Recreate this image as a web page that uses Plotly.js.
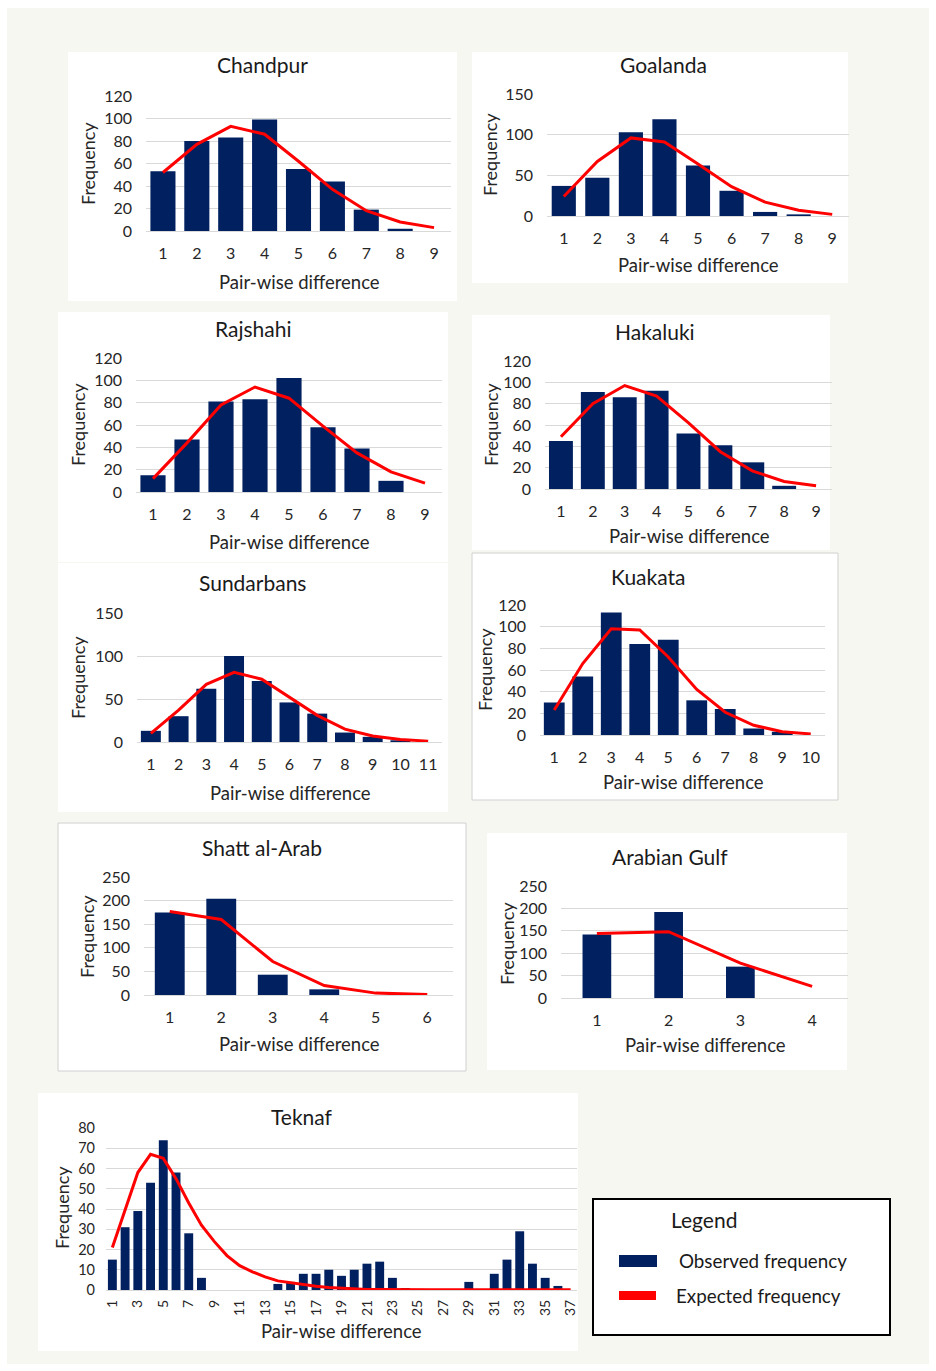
<!DOCTYPE html>
<html>
<head>
<meta charset="utf-8">
<script src="https://cdn.plot.ly/plotly-3.0.1.min.js"></script>
<style>html,body{margin:0;padding:0;background:#fff;}#chart{width:936px;height:1371px;}</style>
</head>
<body>
<div id="chart"></div>
<script>
// ---------- DATA ----------
const diff4 = [1, 2, 3, 4];
const diff6 = [1, 2, 3, 4, 5, 6];
const diff9 = [1, 2, 3, 4, 5, 6, 7, 8, 9];
const diff10 = [1, 2, 3, 4, 5, 6, 7, 8, 9, 10];
const diff11 = [1, 2, 3, 4, 5, 6, 7, 8, 9, 10, 11];
const diff37 = [1,2,3,4,5,6,7,8,9,10,11,12,13,14,15,16,17,18,19,20,21,22,23,24,25,26,27,28,29,30,31,32,33,34,35,36,37];
const teknafTicks = [1,3,5,7,9,11,13,15,17,19,21,23,25,27,29,31,33,35,37];

const chandpurObs = [53, 80, 83, 99, 55, 44, 19, 2, 0];
const chandpurExp = [52, 77, 93, 86, 62, 37, 18, 8, 3];
const goalandaObs = [37, 47, 103, 119, 62, 31, 5, 2, 0];
const goalandaExp = [24, 67, 96, 91, 64, 36, 17, 7, 2];
const rajshahiObs = [15, 47, 81, 83, 102, 58, 39, 10, 0];
const rajshahiExp = [12, 44, 78, 94, 84, 59, 35, 18, 8];
const hakalukiObs = [45, 91, 86, 92, 52, 41, 25, 3, 0];
const hakalukiExp = [49, 80, 97, 87, 62, 35, 17, 7, 3];
const sundarbansObs = [13, 30, 62, 100, 71, 46, 33, 11, 6, 2, 0];
const sundarbansExp = [10, 37, 67, 81, 73, 52, 31, 15, 7, 3, 1];
const kuakataObs = [30, 54, 113, 84, 88, 32, 24, 6, 3, 0];
const kuakataExp = [23, 66, 98, 97, 72, 42, 21, 9, 3, 1];
const shattObs = [175, 204, 43, 12, 0, 0];
const shattExp = [177, 160, 71, 20, 4, 1];
const gulfObs = [142, 192, 70, 0];
const gulfExp = [144, 148, 78, 26];
const teknafObs = [15,31,39,53,74,58,28,6,0,0,0,0,0,3,4,8,8,10,7,10,13,14,6,1,0,0,0,0,4,0,8,15,29,13,6,2,0];
const teknafExp = [21,40,58,67,65,55,43,32,24,17,12,9,6.5,4.5,3.5,2.5,1.8,1.2,0.8,0.5,0.3,0.2,0.1,0.1,0.1,0.1,0.1,0.1,0.1,0.1,0.1,0.1,0.1,0.1,0.1,0.1,0.1];

const panelTitles = ["Chandpur","Goalanda","Rajshahi","Hakaluki","Sundarbans","Kuakata","Shatt al-Arab","Arabian Gulf","Teknaf"];
const yTitle = "Frequency";
const xTitle = "Pair-wise difference";
const legendTitle = "Legend";
const legendObs = "Observed frequency";
const legendExp = "Expected frequency";

// ---------- LAYOUT CONFIG ----------
const W = 936, H = 1371;
const px = x => x / W;
const py = y => 1 - y / H;
const FONT = "Lato, 'Open Sans', sans-serif";
const BLUE = "#002060", RED = "#ff0000", GRID = "#d9d9d9", TXT = "#262626";

const panels = [
  {cats: diff9,  obs: chandpurObs,   exp: chandpurExp,   ymax: 120, dtick: 20, area: [146,96,451,231],  box: [68,52,457,301],   bw: 0.74, title: [262,64],   yt: [88,164],  xt: [299,282],  border: false},
  {cats: diff9,  obs: goalandaObs,   exp: goalandaExp,   ymax: 150, dtick: 50, area: [547,94,849,216],  box: [472,52,848,283],  bw: 0.72, title: [663,64],   yt: [490,155], xt: [698,265],  border: false},
  {cats: diff9,  obs: rajshahiObs,   exp: rajshahiExp,   ymax: 120, dtick: 20, area: [136,358,442,492], box: [58,312,448,562],  bw: 0.74, title: [253,328],  yt: [78,425],  xt: [289,542],  border: false},
  {cats: diff9,  obs: hakalukiObs,   exp: hakalukiExp,   ymax: 120, dtick: 20, area: [545,361,832,489], box: [472,315,830,550], bw: 0.75, title: [655,331],  yt: [491,425], xt: [689,536],  border: false},
  {cats: diff11, obs: sundarbansObs, exp: sundarbansExp, ymax: 150, dtick: 50, area: [137,613,442,742], box: [58,563,448,812],  bw: 0.72, title: [252,582],  yt: [78,678],  xt: [290,793],  border: false},
  {cats: diff10, obs: kuakataObs,    exp: kuakataExp,    ymax: 120, dtick: 20, area: [540,605,825,735], box: [472,553,838,800], bw: 0.73, title: [648,576],  yt: [485,670], xt: [683,782],  border: true},
  {cats: diff6,  obs: shattObs,      exp: shattExp,      ymax: 250, dtick: 50, area: [144,877,453,995], box: [58,823,466,1071], bw: 0.58, title: [262,847],  yt: [87,937],  xt: [299,1044], border: true},
  {cats: diff4,  obs: gulfObs,       exp: gulfExp,       ymax: 250, dtick: 50, area: [561,886,848,998], box: [487,833,847,1070],bw: 0.40, title: [670,856],  yt: [507,943], xt: [705,1045], border: false},
  {cats: diff37, obs: teknafObs,     exp: teknafExp,     ymax: 80,  dtick: 10, area: [106,1128,577,1290],box: [38,1093,578,1351],bw: 0.70, title: [302,1116], yt: [62,1208], xt: [341,1331], border: false, ticks: teknafTicks, rot: true}
];

const traces = [];
const layout = {
  width: W, height: H,
  margin: {l: 0, r: 0, t: 0, b: 0, pad: 0},
  paper_bgcolor: "#ffffff",
  plot_bgcolor: "rgba(0,0,0,0)",
  showlegend: false,
  font: {family: FONT, color: TXT},
  shapes: [
    {type: "rect", xref: "paper", yref: "paper", x0: px(7), x1: px(929), y0: py(1364), y1: py(8), fillcolor: "#f7f7f2", line: {width: 0}, layer: "below"}
  ],
  annotations: []
};

panels.forEach((p, i) => {
  const k = i + 1;
  const xa = "x" + (k === 1 ? "" : k), ya = "y" + (k === 1 ? "" : k);
  const xkey = "xaxis" + (k === 1 ? "" : k), ykey = "yaxis" + (k === 1 ? "" : k);
  const [ax0, ay0, ax1, ay1] = p.area;
  const [bx0, by0, bx1, by1] = p.box;

  layout.shapes.push({type: "rect", xref: "paper", yref: "paper", x0: px(bx0), x1: px(bx1), y0: py(by1), y1: py(by0),
    fillcolor: "#ffffff", line: {width: p.border ? 1 : 0, color: "#d0d0d0"}, layer: "below"});

  layout[xkey] = {
    domain: [px(ax0), px(ax1)], anchor: ya,
    range: [0.5, p.cats.length + 0.5],
    tickmode: "array", tickvals: p.ticks || p.cats, ticktext: (p.ticks || p.cats).map(String),
    tickangle: p.rot ? -90 : 0,
    showgrid: false, zeroline: false, showline: false, ticks: "",
    ticklabelstandoff: p.rot ? 6 : 11,
    tickfont: {family: FONT, size: p.rot ? 14 : 16, color: TXT},
    fixedrange: true
  };
  layout[ykey] = {
    domain: [py(ay1), py(ay0)], anchor: xa,
    range: [0, p.ymax], dtick: p.dtick, tick0: 0,
    showgrid: true, gridcolor: GRID, gridwidth: 1,
    zeroline: true, zerolinecolor: GRID, zerolinewidth: 1,
    showline: false, ticks: "",
    ticklabelstandoff: p.rot ? 10 : 13,
    tickfont: {family: FONT, size: p.rot ? 14.5 : 16, color: TXT},
    fixedrange: true
  };

  traces.push({type: "bar", x: p.cats, y: p.obs, xaxis: xa, yaxis: ya, width: p.bw,
    marker: {color: BLUE, line: {width: 0}}, name: legendObs, hoverinfo: "x+y"});
  traces.push({type: "scatter", mode: "lines", x: p.cats, y: p.exp, xaxis: xa, yaxis: ya,
    line: {color: RED, width: 3}, name: legendExp, hoverinfo: "x+y", cliponaxis: false});

  layout.annotations.push({xref: "paper", yref: "paper", x: px(p.title[0]), y: py(p.title[1]), text: panelTitles[i],
    showarrow: false, xanchor: "center", yanchor: "middle", font: {family: FONT, size: 21, color: "#1a1a1a"}});
  layout.annotations.push({xref: "paper", yref: "paper", x: px(p.yt[0]), y: py(p.yt[1]), text: yTitle, textangle: -90,
    showarrow: false, xanchor: "center", yanchor: "middle", font: {family: FONT, size: 18, color: TXT}});
  layout.annotations.push({xref: "paper", yref: "paper", x: px(p.xt[0]), y: py(p.xt[1]), text: xTitle,
    showarrow: false, xanchor: "center", yanchor: "middle", font: {family: FONT, size: 18.5, color: TXT}});
});

// Legend box (drawn manually)
layout.shapes.push({type: "rect", xref: "paper", yref: "paper", x0: px(593), x1: px(890), y0: py(1335), y1: py(1199),
  fillcolor: "#ffffff", line: {width: 2, color: "#000000"}, layer: "above"});
layout.shapes.push({type: "rect", xref: "paper", yref: "paper", x0: px(619), x1: px(657), y0: py(1267), y1: py(1255),
  fillcolor: BLUE, line: {width: 0}, layer: "above"});
layout.shapes.push({type: "rect", xref: "paper", yref: "paper", x0: px(619), x1: px(656), y0: py(1300), y1: py(1291),
  fillcolor: RED, line: {width: 0}, layer: "above"});
layout.annotations.push({xref: "paper", yref: "paper", x: px(704), y: py(1219), text: legendTitle, showarrow: false,
  xanchor: "center", yanchor: "middle", font: {family: FONT, size: 21, color: "#1a1a1a"}});
layout.annotations.push({xref: "paper", yref: "paper", x: px(677), y: py(1260), text: legendObs, showarrow: false,
  xanchor: "left", yanchor: "middle", font: {family: FONT, size: 18.8, color: "#1a1a1a"}});
layout.annotations.push({xref: "paper", yref: "paper", x: px(674), y: py(1295), text: legendExp, showarrow: false,
  xanchor: "left", yanchor: "middle", font: {family: FONT, size: 18.8, color: "#1a1a1a"}});

Plotly.newPlot("chart", traces, layout, {displayModeBar: false, staticPlot: true});
</script>
</body>
</html>
